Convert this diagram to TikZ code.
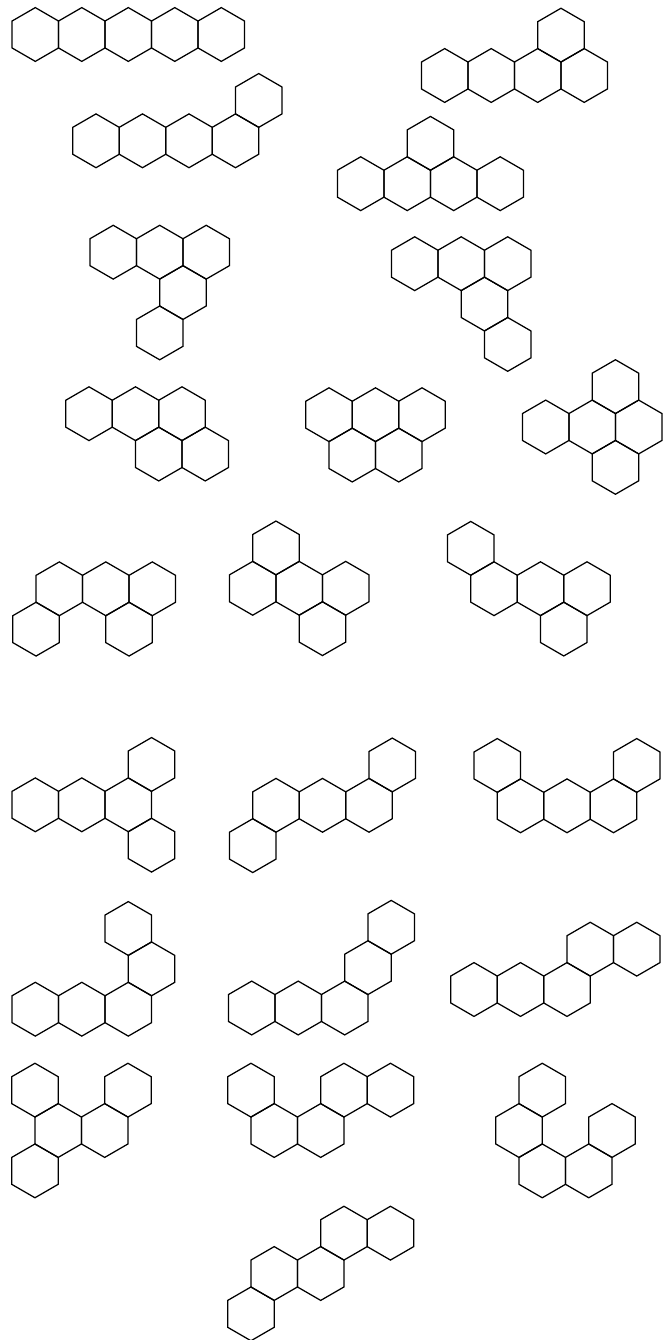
\documentclass[tikz,border=0pt]{standalone}
\tikzset{hexline/.style={draw=black,line width=1.25pt,line join=miter}}
\newcommand{\pentahex}[3]{%
  \foreach \i/\j in {#3} {%
    \draw[hexline, shift={({#1+(\i)*23.25},{#2+(\j)*40.35})}]
      (-23.25,-13.45) -- (0,-26.9) -- (23.25,-13.45) -- (23.25,13.45) -- (0,26.9) -- (-23.25,13.45) -- cycle;
  }%
}
\begin{document}
\begin{tikzpicture}[x=1pt,y=-1pt]
\useasboundingbox (0,0) rectangle (669,1340);
% row 1
\pentahex{35.3}{34.5}{0/0,2/0,4/0,6/0,8/0}
\pentahex{444.7}{75.5}{0/0,2/0,4/0,6/0,5/-1}
% row 2
\pentahex{96}{140.8}{0/0,2/0,4/0,6/0,7/-1}
\pentahex{360.7}{183.7}{0/0,2/0,4/0,6/0,3/-1}
% row 3
\pentahex{113.2}{252.2}{0/0,2/0,4/0,3/1,2/2}
\pentahex{414.7}{263.7}{0/0,2/0,4/0,3/1,4/2}
% row 4
\pentahex{89}{413.7}{0/0,2/0,4/0,3/1,5/1}
\pentahex{329}{414.7}{0/0,2/0,4/0,1/1,3/1}
\pentahex{545.7}{427}{0/0,2/0,4/0,3/-1,3/1}
% row 5
\pentahex{59.3}{588.8}{0/0,2/0,4/0,-1/1,3/1}
\pentahex{252.7}{588.3}{0/0,2/0,4/0,1/-1,3/1}
\pentahex{494}{588.7}{0/0,2/0,4/0,-1/-1,3/1}
% row 6
\pentahex{35.3}{804.8}{0/0,2/0,4/0,5/-1,5/1}
\pentahex{276}{805.3}{0/0,2/0,4/0,5/-1,-1/1}
\pentahex{520.5}{805.8}{0/0,2/0,4/0,-1/-1,5/-1}
% row 7
\pentahex{35.3}{1009.2}{0/0,2/0,4/0,5/-1,4/-2}
\pentahex{251.7}{1008}{0/0,2/0,4/0,5/-1,6/-2}
\pentahex{474}{989.5}{0/0,2/0,4/0,5/-1,7/-1}
% row 8
\pentahex{58.2}{1130.5}{0/0,2/0,-1/-1,3/-1,-1/1}
\pentahex{274.2}{1130.5}{0/0,2/0,-1/-1,3/-1,5/-1}
\pentahex{519}{1130.5}{0/0,1/-1,1/1,3/1,4/0}
% row 9
\pentahex{274.2}{1273.5}{0/0,2/0,-1/1,3/-1,5/-1}
\end{tikzpicture}
\end{document}
